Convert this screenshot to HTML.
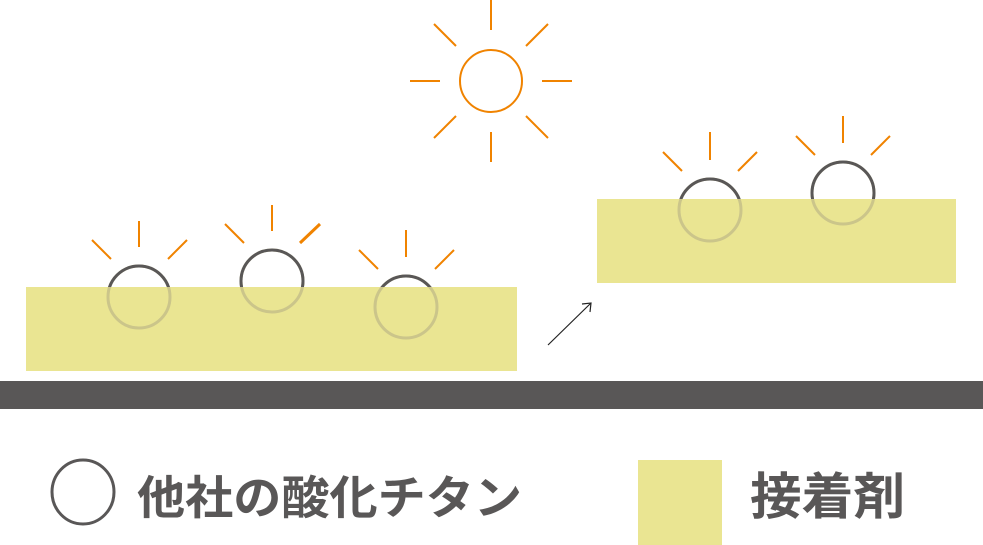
<!DOCTYPE html>
<html><head><meta charset="utf-8"><style>html,body{margin:0;padding:0;background:#fff}svg{display:block}</style></head>
<body>
<svg width="983" height="545" viewBox="0 0 983 545" xmlns="http://www.w3.org/2000/svg">
<defs>
<clipPath id="aboveL"><rect x="0" y="0" width="983" height="287"/></clipPath>
<clipPath id="aboveR"><rect x="0" y="0" width="983" height="199"/></clipPath>
</defs>
<g stroke="#f08300" stroke-width="2" fill="none">
<!-- sun -->
<circle cx="491" cy="81" r="31"/>
<line x1="491" y1="0" x2="491" y2="30"/><line x1="491" y1="132" x2="491" y2="162"/>
<line x1="410" y1="81" x2="440" y2="81"/><line x1="542" y1="81" x2="572" y2="81"/>
<line x1="434" y1="24" x2="456" y2="46"/><line x1="548" y1="24" x2="526" y2="46"/>
<line x1="434" y1="138" x2="456" y2="116"/><line x1="548" y1="138" x2="526" y2="116"/>
<!-- rays -->
<line x1="139" y1="221" x2="139" y2="247"/><line x1="92" y1="240" x2="111" y2="259"/><line x1="168" y1="259" x2="187" y2="240"/>
<line x1="272" y1="205" x2="272" y2="231"/><line x1="225" y1="224" x2="244" y2="243"/><line x1="300" y1="243" x2="320" y2="224" stroke-width="3"/>
<line x1="406" y1="230" x2="406" y2="257"/><line x1="359" y1="250" x2="378" y2="269"/><line x1="435" y1="269" x2="454" y2="250"/>
<line x1="710" y1="132" x2="710" y2="160"/><line x1="663" y1="152" x2="682" y2="171"/><line x1="738" y1="171" x2="757" y2="152"/>
<line x1="843" y1="116" x2="843" y2="143"/><line x1="796" y1="136" x2="815" y2="155"/><line x1="871" y1="155" x2="890" y2="136"/>
</g>
<rect x="26" y="287" width="491" height="84" fill="#eae592"/>
<rect x="597" y="199" width="359" height="84" fill="#eae592"/>
<g fill="none" stroke="#cbc58a" stroke-width="3">
<circle cx="139" cy="297" r="31"/><circle cx="272" cy="281" r="31"/><circle cx="406" cy="307" r="31"/>
<circle cx="710" cy="210" r="31"/><circle cx="843" cy="193" r="31"/>
</g>
<g fill="none" stroke="#595757" stroke-width="3">
<g clip-path="url(#aboveL)"><circle cx="139" cy="297" r="31"/><circle cx="272" cy="281" r="31"/><circle cx="406" cy="307" r="31"/></g>
<g clip-path="url(#aboveR)"><circle cx="710" cy="210" r="31"/><circle cx="843" cy="193" r="31"/></g>
</g>
<g stroke="#222" stroke-width="1.2" fill="none">
<line x1="548" y1="345" x2="591" y2="303"/><polyline points="582,304 591,303 590,312"/>
</g>
<rect x="0" y="381" width="983" height="28" fill="#595757"/>
<ellipse cx="83" cy="492" rx="31" ry="32" fill="none" stroke="#595757" stroke-width="3"/>
<text x="137" y="514" font-family="'Liberation Sans','Noto Sans CJK JP',sans-serif" font-size="46" font-weight="bold" fill="#595757" textLength="385" lengthAdjust="spacingAndGlyphs">他社の酸化チタン</text>
<rect x="638" y="460" width="84" height="85" fill="#eae592"/>
<text x="750" y="514" font-family="'Liberation Sans','Noto Sans CJK JP',sans-serif" font-size="50" font-weight="bold" fill="#595757" textLength="155" lengthAdjust="spacingAndGlyphs">接着剤</text>
</svg>
</body></html>
